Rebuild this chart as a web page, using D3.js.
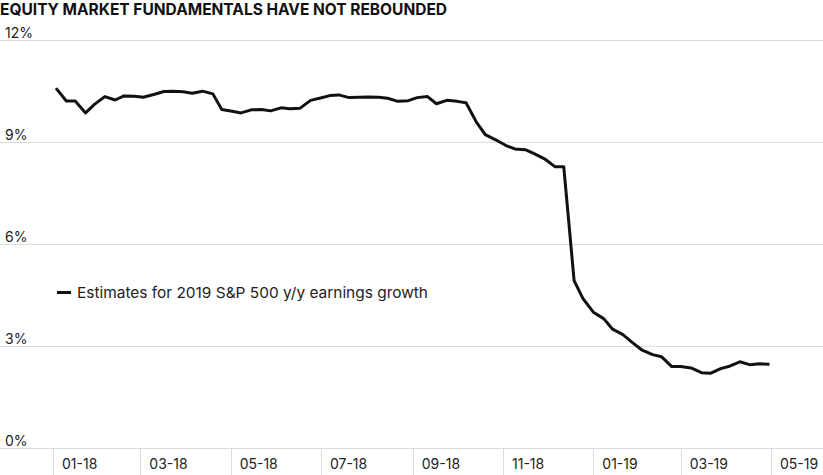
<!DOCTYPE html>
<html><head><meta charset="utf-8">
<script src="https://cdn.jsdelivr.net/npm/d3@7"></script>
<style>
html,body{margin:0;padding:0;background:#fff;}
svg{display:block;font-family:Inter, "Noto Sans", sans-serif;}
</style></head>
<body>
<script>
const title = "EQUITY MARKET FUNDAMENTALS HAVE NOT REBOUNDED";
const seriesName = "Estimates for 2019 S&P 500 y/y earnings growth";
const dates = ["2018-01-03","2018-01-10","2018-01-16","2018-01-23","2018-01-29","2018-02-05","2018-02-12","2018-02-18","2018-02-25","2018-03-03",
"2018-03-10","2018-03-17","2018-03-23","2018-03-30","2018-04-05","2018-04-12","2018-04-19","2018-04-25","2018-05-02","2018-05-08",
"2018-05-15","2018-05-22","2018-05-28","2018-06-04","2018-06-10","2018-06-17","2018-06-24","2018-06-30","2018-07-07","2018-07-13",
"2018-07-20","2018-07-27","2018-08-02","2018-08-09","2018-08-15","2018-08-22","2018-08-29","2018-09-04","2018-09-11","2018-09-17",
"2018-09-24","2018-10-01","2018-10-07","2018-10-14","2018-10-20","2018-10-27","2018-11-03","2018-11-09","2018-11-16","2018-11-22",
"2018-11-29","2018-12-06","2018-12-12","2018-12-19","2018-12-25","2019-01-01","2019-01-08","2019-01-14","2019-01-21","2019-01-27",
"2019-02-03","2019-02-10","2019-02-16","2019-02-23","2019-03-01","2019-03-08","2019-03-15","2019-03-21","2019-03-28","2019-04-03",
"2019-04-10","2019-04-17","2019-04-23","2019-04-30"];
const values = [10.60,10.22,10.22,9.87,10.12,10.35,10.25,10.37,10.36,10.33,
10.41,10.50,10.51,10.49,10.45,10.51,10.43,9.97,9.92,9.87,
9.96,9.97,9.93,10.02,9.99,10.01,10.24,10.30,10.38,10.40,
10.32,10.33,10.34,10.33,10.30,10.21,10.23,10.32,10.35,10.14,
10.24,10.21,10.17,9.60,9.23,9.08,8.91,8.81,8.79,8.67,
8.52,8.29,8.29,4.94,4.41,4.01,3.82,3.51,3.35,3.13,
2.89,2.76,2.70,2.41,2.41,2.37,2.23,2.21,2.35,2.42,
2.55,2.46,2.49,2.48];
const yTicks = [0,3,6,9,12];
const xTickDates = ["2018-01-01","2018-03-01","2018-05-01","2018-07-01","2018-09-01","2018-11-01","2019-01-01","2019-03-01","2019-05-01"];
const xTickLabels = ["01-18","03-18","05-18","07-18","09-18","11-18","01-19","03-19","05-19"];

const W = 823, H = 475;
const parse = d3.utcParse("%Y-%m-%d");
const data = dates.map((d,i)=>({date:parse(d), value:values[i]}));

const svg = d3.select("body").append("svg").attr("width",W).attr("height",H);

const x = d3.scaleUtc().domain([parse("2018-01-01"), parse("2019-05-01")]).range([53, 771]);
const y = d3.scaleLinear().domain([0,12]).range([448.5, 40.5]);

// title
const t = svg.append("text").attr("x",0).attr("y",15)
  .attr("font-size",16).attr("font-weight",700).attr("fill","#111")
  .attr("font-family","Inter, 'Noto Sans', sans-serif")
  .text(title);
t.attr("textLength",447).attr("lengthAdjust","spacingAndGlyphs");

// y grid + labels
const gy = svg.append("g");
gy.selectAll("line").data(yTicks).join("line")
  .attr("x1",0).attr("x2",W).attr("y1",d=>y(d)).attr("y2",d=>y(d))
  .attr("stroke","#dcdcdc").attr("stroke-width",1);
gy.selectAll("text").data(yTicks).join("text")
  .attr("x",5).attr("y",d=>y(d)-3)
  .attr("font-size",14).attr("fill","#222")
  .text(d=>d+"%");

// x ticks
const gx = svg.append("g");
gx.selectAll("line").data(xTickDates).join("line")
  .attr("x1",d=>Math.round(x(parse(d)))+0.5).attr("x2",d=>Math.round(x(parse(d)))+0.5)
  .attr("y1",y(0)).attr("y2",H)
  .attr("stroke","#dcdcdc").attr("stroke-width",1);
gx.selectAll("text").data(xTickDates).join("text")
  .attr("x",d=>x(parse(d))+9).attr("y",469)
  .attr("font-size",14).attr("fill","#222")
  .text((d,i)=>xTickLabels[i]);

// legend
svg.append("line").attr("x1",57).attr("x2",71).attr("y1",292.5).attr("y2",292.5)
  .attr("stroke","#111").attr("stroke-width",3);
svg.append("text").attr("x",77).attr("y",297.5)
  .attr("font-size",15).attr("fill","#222")
  .attr("textLength",351).attr("lengthAdjust","spacingAndGlyphs")
  .text(seriesName);

// line
const line = d3.line().x(d=>x(d.date)).y(d=>y(d.value));
svg.append("path").datum(data).attr("d",line)
  .attr("fill","none").attr("stroke","#111").attr("stroke-width",3)
  .attr("stroke-linejoin","round").attr("stroke-linecap","butt");
</script>
</body></html>
